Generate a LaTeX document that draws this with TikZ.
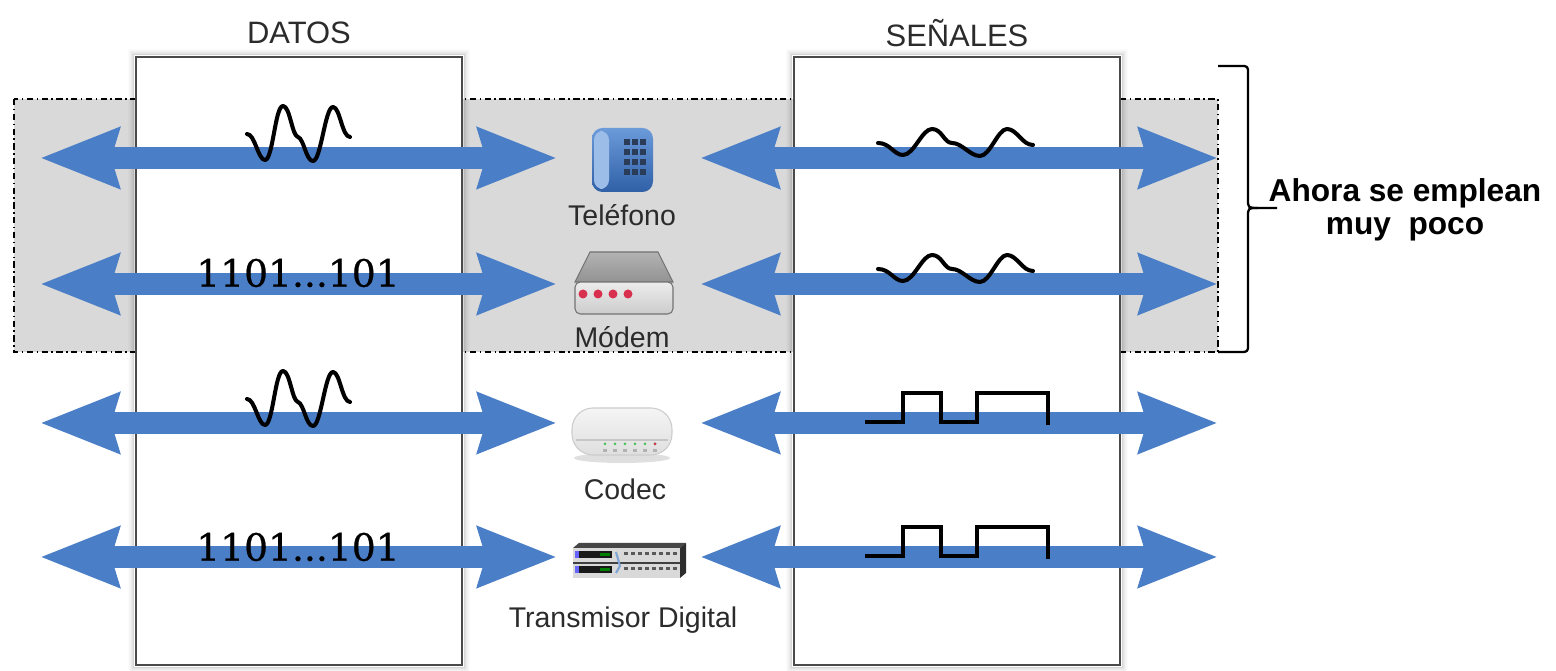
\documentclass[tikz,border=0pt]{standalone}
\usepackage{fontspec}
\setmainfont{Liberation Sans}
\newfontfamily\bitsfont[FakeBold=0.6]{DejaVu Serif}
\usepackage{tikz}
\usetikzlibrary{arrows.meta}
\definecolor{flowblue}{HTML}{4A7EC6}
\definecolor{bandgray}{HTML}{D9D9D9}
\definecolor{edgegray}{HTML}{4A4A4A}
\definecolor{textgray}{HTML}{2B2B2B}
\definecolor{phonedark}{HTML}{2F5FA6}
\definecolor{phonelight}{HTML}{6C9BDA}
\definecolor{handset}{HTML}{9BBDE8}
\definecolor{keys}{HTML}{2A3C57}
\definecolor{modemred}{HTML}{D8304F}
\definecolor{ledgreen}{HTML}{4CC25A}
\tikzset{
  flow/.style={draw=flowblue, line width=0.22cm,
    {Stealth[length=0.78cm, width=0.58cm, inset=0.07cm]}-{Stealth[length=0.78cm, width=0.58cm, inset=0.07cm]}},
  panel/.style={draw=edgegray, fill=white, line width=0.7pt, inner sep=0pt,
    minimum width=3.26cm, minimum height=6.08cm},
  band/.style={fill=bandgray},
  bandedge/.style={draw=black, line width=0.4pt, dash pattern=on 1.8pt off 1pt on 0.4pt off 1pt},
  sig/.style={draw=black, line width=1.15pt, line cap=round, line join=round},
  sqr/.style={draw=black, line width=1.15pt, line join=miter},
  ttl/.style={text=textgray, font=\fontsize{8.8}{10}\selectfont},
  lab/.style={text=textgray, font=\fontsize{8.1}{9}\selectfont},
  bits/.style={text=black, font=\bitsfont\fontsize{10.7}{12}\selectfont},
  note/.style={align=center, font=\bfseries\fontsize{9}{9.5}\selectfont},
  curly/.style={draw=black, line width=0.65pt, line join=round},
}

\begin{document}
\begin{tikzpicture}[x=0.01cm, y=-0.01cm]
  \useasboundingbox (0,0) rectangle (1556,671);

  % shaded band of the old devices
  \fill[band] (14,99) rectangle (1218,352);
  \draw[bandedge] (14,99) rectangle (1218,352);

  % the two columns
  \node[panel] (datos) at (299,361) {};
  \node[panel] (senales) at (957,361) {};
  \foreach \k/\o in {1/0.16,2/0.11,3/0.08,4/0.05,5/0.03,6/0.015} {
    \draw[black, opacity=\o, line width=0.3pt]
      ([shift={(-\k,-\k)}]datos.north west) rectangle ([shift={(\k,\k)}]datos.south east);
    \draw[black, opacity=\o, line width=0.3pt]
      ([shift={(-\k,-\k)}]senales.north west) rectangle ([shift={(\k,\k)}]senales.south east);
  }
  \node[ttl] (tdatos) at (299,33) {DATOS};
  \node[ttl] (tsenales) at (957,33) {SEÑALES};

  % arrows, one pair per row
  \foreach \y [count=\i] in {158,284,423,557} {
    \coordinate (l\i) at (40,\y);
    \coordinate (m\i) at (557,\y);
    \coordinate (n\i) at (700,\y);
    \coordinate (r\i) at (1218,\y);
    \draw[flow] (l\i) -- (m\i);
    \draw[flow] (n\i) -- (r\i);
  }

  % analog data
  \foreach \y in {158,423}
    \draw[sig, shift={(0,\y)}] (247,-24)
      .. controls (255,-24) and (258,2) .. (265,2)
      .. controls (273,2) and (275,-52) .. (283,-52)
      .. controls (290,-52) and (292,-22) .. (298,-21)
      .. controls (304,-19) and (306,3) .. (313,3)
      .. controls (321,3) and (325,-51) .. (333,-51)
      .. controls (340,-51) and (342,-21) .. (350,-21);

  % digital data
  \node[bits] (bitsa) at (298,273) {1101...101};
  \node[bits] (bitsb) at (298,547) {1101...101};

  % analog signal
  \foreach \y in {158,284}
    \draw[sig, shift={(0,\y)}] (878,-15)
      .. controls (890,-15) and (894,-3) .. (903,-3)
      .. controls (914,-3) and (922,-29) .. (932,-29)
      .. controls (942,-29) and (944,-15) .. (952,-15)
      .. controls (962,-15) and (970,-2) .. (980,-2)
      .. controls (990,-2) and (998,-29) .. (1007,-29)
      .. controls (1017,-29) and (1022,-13) .. (1033,-13);

  % digital signal
  \foreach \y in {423,557}
    \draw[sqr, shift={(0,\y)}] (865,-1) -- (903,-1) -- (903,-30) -- (941,-30)
      -- (941,-1) -- (977,-1) -- (977,-30) -- (1048,-30) -- (1048,2);

  % telephone
  \shade[top color=phonelight, bottom color=phonedark, rounded corners=3pt]
    (592,128) rectangle (653,192);
  \fill[handset, rounded corners=2.5pt] (594,131) rectangle (609,189);
  \foreach \c in {627,635,643}
    \foreach \r in {142,152,162,172}
      \fill[keys] (\c-3,\r-3) rectangle (\c+3,\r+3);
  \node[lab] (tel) at (622,215) {Teléfono};

  % modem
  \shade[top color=gray!60, bottom color=gray!85, draw=gray!90!black, line width=0.3pt]
    (590,252) -- (658,252) -- (673,282) -- (575,282) -- cycle;
  \shade[top color=gray!15, bottom color=gray!40, draw=gray!90!black, line width=0.3pt,
    rounded corners=1.5pt] (575,282) rectangle (673,314);
  \foreach \c in {583,598,613,628}
    \fill[modemred] (\c,294) circle (4.5);
  \node[lab] (modem) at (622,337) {Módem};

  % codec
  \fill[gray, opacity=0.25] (622,458) ellipse (48 and 5);
  \shade[top color=gray!8, bottom color=gray!25, draw=gray!40, line width=0.3pt,
    rounded corners=6pt] (572,408) rectangle (672,455);
  \draw[gray!45, line width=0.3pt] (576,440) -- (668,440);
  \foreach \c in {605,615,625,635,645,655} {
    \fill[ledgreen] (\c,444) circle (1.5);
    \fill[gray!60] (\c-2,449) rectangle (\c+2,452);
  }
  \fill[modemred] (655,444) circle (1.5);
  \node[lab] (codec) at (625,489) {Codec};

  % digital transmitter
  \fill[gray!55!black] (573,548) -- (579,543) -- (686,543) -- (680,548) -- cycle;
  \fill[gray!35!black] (680,548) -- (686,543) -- (686,573) -- (680,578) -- cycle;
  \fill[gray!30] (573,548) rectangle (680,578);
  \draw[gray!50!black, line width=0.4pt] (573,563) -- (680,563);
  \foreach \r in {551,566} {
    \fill[gray!20!black] (575,\r) rectangle (612,\r+7);
    \fill[blue!60] (575,\r) rectangle (579,\r+7);
    \fill[green!50!black] (600,\r+2) rectangle (610,\r+5);
    \foreach \c in {624,631,...,673}
      \fill[gray!70!black] (\c,\r+1) rectangle (\c+4,\r+4);
  }
  \draw[flowblue!70, line width=0.6pt] (616,552) -- (620,566) -- (616,573);
  \node[lab] (trans) at (623,620) {Transmisor Digital};

  % note on the band
  \draw[curly] (1218,66) -- (1240,66) .. controls (1248,66) .. (1248,74) -- (1248,199)
    .. controls (1248,208) .. (1258,208) -- (1277,208);
  \draw[curly] (1258,208) .. controls (1248,208) .. (1248,217) -- (1248,344)
    .. controls (1248,352) .. (1240,352) -- (1218,352);
  \node[note] (ahora) at (1405,210) {Ahora se emplean\\muy~ poco};
\end{tikzpicture}
\end{document}
